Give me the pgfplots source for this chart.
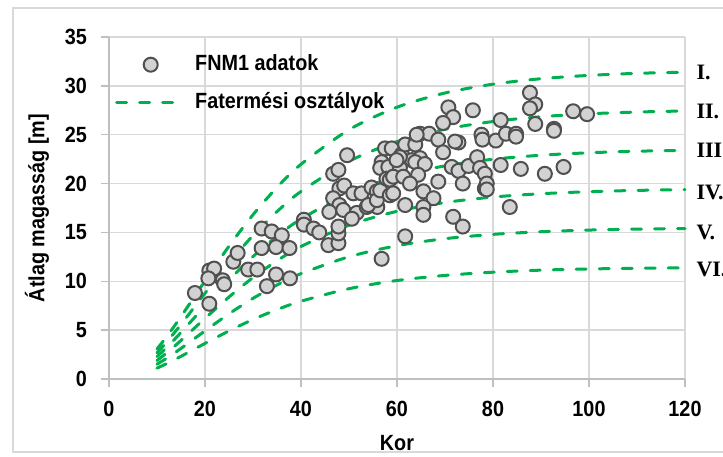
\documentclass[border=0pt]{standalone}
\usepackage{pgfplots}
\pgfplotsset{compat=1.18}
\usepackage{pgfplotstable}
\usepackage{fontspec}
\setmainfont{Liberation Sans}[FakeStretch=0.9]
\newfontfamily\romanfont{Liberation Serif}

\definecolor{fnmfill}{HTML}{D2D2D2}
\definecolor{fnmedge}{HTML}{505050}
\definecolor{classgreen}{HTML}{00B050}
\definecolor{gridgray}{HTML}{D9D9D9}
\definecolor{axisgray}{HTML}{BFBFBF}

\newcommand{\chfont}{\fontsize{22}{26}\selectfont\bfseries}

\pgfplotsset{
  classline/.style={classgreen, line width=3pt, line cap=round,
    dash pattern=on 10pt off 13pt, smooth},
}

% FNM1 measurements: age, mean height
\pgfplotstableread{
age h
17.9 8.8
20.9 7.7
20.9 11.1
21.9 11.3
20.7 10.3
23.7 10.1
24.0 9.7
25.9 12.0
26.8 12.9
29.0 11.2
30.9 11.2
31.8 15.4
33.9 15.1
36.0 14.7
31.8 13.4
34.8 13.5
34.8 10.7
32.9 9.5
37.6 13.4
37.7 10.3
49.6 22.9
46.7 21.0
47.8 21.4
48.0 19.5
49.0 19.8
46.7 18.5
48.0 17.8
45.9 17.1
48.8 17.3
50.9 19.0
52.6 19.0
51.6 17.0
50.6 16.4
53.7 17.6
54.7 19.6
55.8 19.2
55.9 17.6
54.0 17.8
55.8 18.3
56.5 19.3
40.6 16.3
40.6 15.8
42.6 15.4
43.8 15.0
45.7 13.7
47.8 13.9
47.8 14.9
47.8 15.6
56.8 12.3
57.5 23.6
58.9 23.6
56.8 22.2
56.5 21.6
58.2 21.7
57.8 20.5
58.5 18.8
58.5 20.4
59.2 19.0
70.7 27.8
71.7 26.8
69.6 26.2
75.8 27.5
64.8 25.1
66.7 25.1
68.6 24.5
72.8 24.2
72.1 24.3
69.6 23.2
61.0 23.0
61.7 24.0
63.8 24.0
64.1 25.0
63.1 22.4
64.8 22.6
63.8 22.2
65.8 22.0
60.6 21.6
60.6 22.7
59.9 22.4
59.2 20.7
61.3 20.7
64.4 20.9
62.7 20.0
61.7 17.8
65.5 19.2
67.6 18.5
68.6 20.2
65.5 17.6
65.5 16.8
71.4 21.7
72.8 21.3
73.7 20.0
74.9 21.8
76.7 22.7
77.3 21.6
78.3 21.0
78.3 19.5
71.7 16.6
73.7 15.6
61.7 14.6
77.6 25.0
77.8 24.5
87.7 29.3
88.8 28.1
87.7 27.7
88.8 26.1
92.7 25.6
92.7 25.4
96.7 27.4
99.6 27.1
81.6 26.5
80.6 24.4
82.7 25.1
84.8 25.1
84.8 24.8
81.6 21.9
85.8 21.5
90.8 21.0
94.7 21.7
78.7 20.0
78.7 19.4
83.5 17.6
}\fnmdata

% yield classes I..VI: age, height
\pgfplotstableread{
age I II III IV V VI
10 3.07 2.68 2.29 1.89 1.51 1.11
12 4.32 3.78 3.22 2.67 2.12 1.57
15 6.39 5.58 4.76 3.94 3.13 2.32
20 10.04 8.77 7.48 6.20 4.92 3.64
25 13.59 11.87 10.13 8.39 6.67 4.92
30 16.81 14.69 12.53 10.38 8.25 6.09
35 19.61 17.13 14.61 12.10 9.62 7.10
40 21.97 19.19 16.37 13.56 10.78 7.96
50 25.51 22.28 19.01 15.74 12.51 9.24
60 27.81 24.29 20.73 17.16 13.64 10.08
70 29.27 25.56 21.81 18.06 14.36 10.60
80 30.17 26.35 22.49 18.62 14.80 10.93
90 30.73 26.84 22.90 18.96 15.07 11.14
100 31.07 27.14 23.15 19.17 15.24 11.26
110 31.28 27.32 23.31 19.30 15.34 11.33
120 31.40 27.43 23.40 19.38 15.40 11.38
}\classdata

\begin{document}
\begin{tikzpicture}
\useasboundingbox (0,0) rectangle (723pt,457pt);
\draw[gridgray, line width=1.5pt] (740pt,449pt) -- (13pt,449pt) -- (13pt,5pt) -- (740pt,5pt);
\begin{axis}[
  at={(109pt,78pt)}, anchor=south west,
  width=576pt, height=342pt, scale only axis,
  xmin=0, xmax=120, ymin=0, ymax=35,
  xtick={0,20,...,120}, ytick={0,5,...,35},
  grid=major,
  major grid style={draw=gridgray, line width=1.3pt},
  axis x line*=bottom, axis y line*=left,
  axis line style={draw=axisgray, line width=1.5pt},
  tick align=outside, major tick length=8pt,
  tick style={draw=axisgray, line width=1.5pt},
  /pgf/number format/assume math mode=true,
  tick label style={font=\chfont, inner sep=0pt},
  xticklabel style={anchor=center, yshift=-22pt},
  yticklabel style={anchor=east, xshift=-14pt},
  xlabel={Kor}, ylabel={Átlag magasság [m]},
  label style={font=\chfont},
  xlabel style={at={(axis description cs:0.5,-0.187)}, anchor=center},
  ylabel style={at={(axis description cs:-0.125,0.5)}, anchor=center},
  clip=false,
  legend cell align=left,
  legend style={draw=none, fill=none, at={(axis description cs:0,1)},
    anchor=north west, xshift=6pt, yshift=-17pt, inner sep=0pt,
    row sep=17pt, font=\chfont,
    nodes={inner sep=0pt, text height=16pt, text depth=5pt},
    /tikz/every odd column/.append style={column sep=20pt}},
]
\addplot[only marks, mark=*, mark size=7pt,
  mark options={fill=fnmfill, draw=fnmedge, line width=2pt},
  legend image code/.code={\draw[draw=none, mark=*, mark size=7pt,
    mark options={fill=fnmfill, draw=fnmedge, line width=2pt},
    mark repeat=2, mark phase=2]
    plot coordinates {(0pt,0pt) (34pt,0pt) (57pt,0pt)};}]
  table[x=age, y=h] {\fnmdata};
\addlegendentry{FNM1 adatok}
\addplot[classline,
  legend image code/.code={\draw[classgreen, line width=3pt, line cap=round,
    dash pattern=on 10pt off 13pt] (0pt,0pt) -- (57pt,0pt);}]
  table[x=age, y=I] {\classdata};
\addlegendentry{Fatermési osztályok}
\addplot[classline, forget plot] table[x=age, y=II] {\classdata};
\addplot[classline, forget plot] table[x=age, y=III] {\classdata};
\addplot[classline, forget plot] table[x=age, y=IV] {\classdata};
\addplot[classline, forget plot] table[x=age, y=V] {\classdata};
\addplot[classline, forget plot] table[x=age, y=VI] {\classdata};
\node[anchor=west, font=\romanfont\bfseries\fontsize{22}{26}\selectfont, xshift=8pt] at (axis cs:120,31.4) {I.};
\node[anchor=west, font=\romanfont\bfseries\fontsize{22}{26}\selectfont, xshift=8pt] at (axis cs:120,27.4) {II.};
\node[anchor=west, font=\romanfont\bfseries\fontsize{22}{26}\selectfont, xshift=8pt] at (axis cs:120,23.4) {III.};
\node[anchor=west, font=\romanfont\bfseries\fontsize{22}{26}\selectfont, xshift=8pt] at (axis cs:120,19.1) {IV.};
\node[anchor=west, font=\romanfont\bfseries\fontsize{22}{26}\selectfont, xshift=8pt] at (axis cs:120,15.0) {V.};
\node[anchor=west, font=\romanfont\bfseries\fontsize{22}{26}\selectfont, xshift=8pt] at (axis cs:120,11.2) {VI.};
\end{axis}
\end{tikzpicture}
\end{document}
